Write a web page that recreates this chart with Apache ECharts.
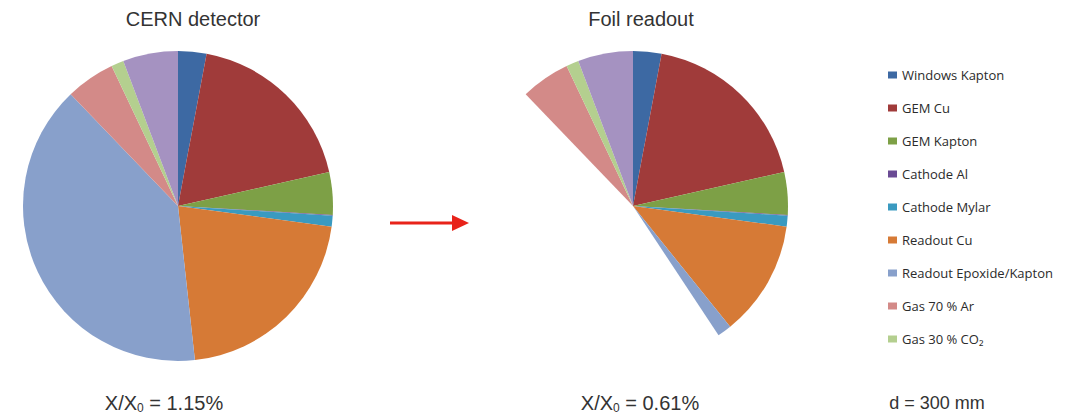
<!DOCTYPE html>
<html>
<head>
<meta charset="utf-8">
<title>Material budget: CERN detector vs foil readout</title>
<script src="https://cdn.jsdelivr.net/npm/echarts@6/dist/echarts.min.js"></script>
<style>
  html, body { margin: 0; padding: 0; background: #ffffff; }
  #chart { width: 1081px; height: 418px; }
</style>
</head>
<body>
<div id="chart"></div>
<script>
// Material contributions, in % of X0, per detector component
const categories = [
  'Windows Kapton', 'GEM Cu', 'GEM Kapton', 'Cathode Al', 'Cathode Mylar',
  'Readout Cu', 'Readout Epoxide/Kapton', 'Gas 70 % Ar', 'Gas 30 % CO\u2082', 'Other'
];
const cernValues = [0.034, 0.213, 0.051, 0.001, 0.013, 0.243, 0.455, 0.059, 0.015, 0.066];
const foilValues = [0.034, 0.213, 0.051, 0.001, 0.013, 0.139, 0.017, 0.059, 0.015, 0.066];
const colors = [
  '#3D69A3', '#A03B3A', '#7DA046', '#6A4B94', '#3A9AC0',
  '#D67A36', '#88A0CB', '#D38A88', '#B4CF8F', '#A592C1'
];
const legendNames = categories.slice(0, 9);
const titles = ['CERN detector', 'Foil readout'];
const totals = ['1.15%', '0.61%'];
const thickness = 'd = 300 mm';

const sum = a => a.reduce((s, v) => s + v, 0);
const cernTotal = sum(cernValues);

function items(values) {
  return values.map((v, i) => ({ name: categories[i], value: v, itemStyle: { color: colors[i] } }));
}

// Foil readout pie is drawn on the same angular scale as the CERN one:
// the remaining angle stays empty.
const foilData = items(foilValues);
const foilReadoutIndex = 6;
foilData.splice(foilReadoutIndex + 1, 0, {
  name: '',
  value: cernTotal - sum(foilValues),
  itemStyle: { color: 'rgba(0,0,0,0)' },
  emphasis: { disabled: true },
  tooltip: { show: false }
});

const pieBase = {
  type: 'pie',
  radius: 155,
  startAngle: 90,
  clockwise: true,
  avoidLabelOverlap: false,
  label: { show: false },
  labelLine: { show: false },
  itemStyle: { borderWidth: 0 },
  animation: false,
  minAngle: 0
};

const chart = echarts.init(document.getElementById('chart'), null, { renderer: 'svg' });

const font = '"Liberation Sans", Arial, sans-serif';

function ratioText(x, y, val) {
  return {
    type: 'text',
    x: x, y: y,
    style: {
      text: '{a|X/X}{s|0}{a| = ' + val + '}',
      align: 'center',
      verticalAlign: 'middle',
      rich: {
        a: { fontSize: 20, fontFamily: font, fill: '#333333' },
        s: { fontSize: 12, fontFamily: font, fill: '#333333', padding: [10, 0, 0, 0] }
      }
    }
  };
}

chart.setOption({
  backgroundColor: '#ffffff',
  animation: false,
  title: [
    { text: titles[0], left: 188, top: 4, textAlign: 'center',
      textStyle: { fontSize: 20, fontWeight: 'normal', color: '#333333', fontFamily: font } },
    { text: titles[1], left: 636, top: 4, textAlign: 'center',
      textStyle: { fontSize: 20, fontWeight: 'normal', color: '#333333', fontFamily: font } }
  ],
  legend: {
    orient: 'vertical',
    left: 883,
    top: 63,
    data: legendNames,
    icon: 'rect',
    itemWidth: 9,
    itemHeight: 7,
    itemGap: 19,
    selectedMode: false,
    textStyle: { fontSize: 13, color: '#2b2b2b', fontFamily: '"Open Sans", "Liberation Sans", sans-serif', lineHeight: 14 }
  },
  series: [
    Object.assign({}, pieBase, { name: titles[0], center: [178, 206], data: items(cernValues) }),
    Object.assign({}, pieBase, { name: titles[1], center: [633, 206], data: foilData })
  ],
  graphic: [
    ratioText(164, 403, totals[0]),
    ratioText(640, 403, totals[1]),
    {
      type: 'text', x: 937, y: 403,
      style: { text: thickness, align: 'center', verticalAlign: 'middle',
        fontSize: 18, fontFamily: font, fill: '#333333' }
    },
    {
      type: 'line',
      shape: { x1: 390, y1: 223, x2: 454, y2: 223 },
      style: { stroke: '#E8231A', lineWidth: 3 }
    },
    {
      type: 'polygon',
      shape: { points: [[452, 215], [469, 223], [452, 231]] },
      style: { fill: '#E8231A' }
    }
  ]
});
</script>
</body>
</html>
